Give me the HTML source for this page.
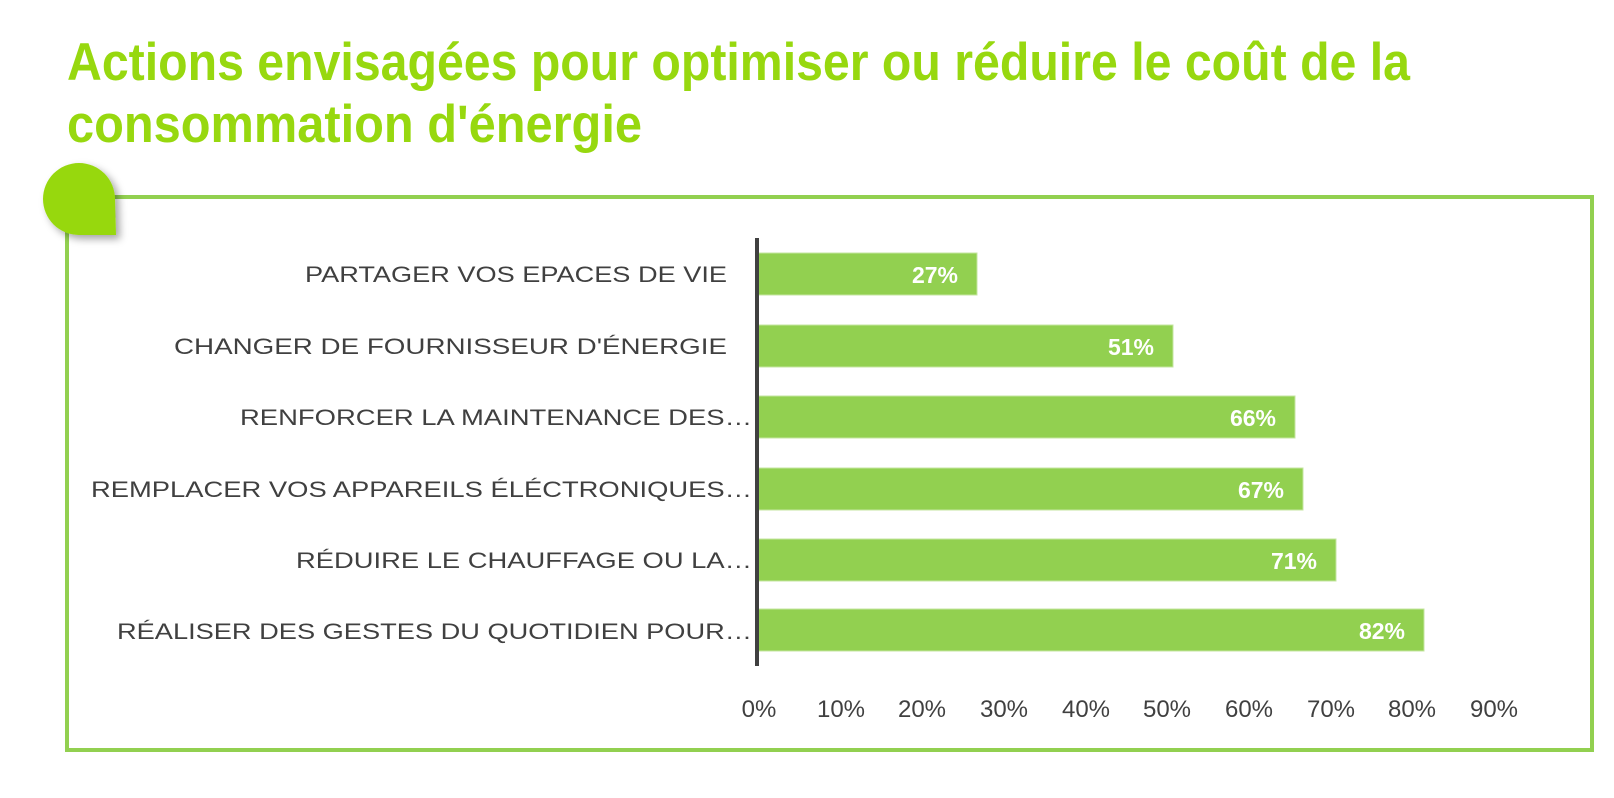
<!DOCTYPE html>
<html><head><meta charset="utf-8"><style>
html,body{margin:0;padding:0;background:#fff;}
svg{display:block;}
</style></head><body>
<svg width="1614" height="798" viewBox="0 0 1614 798" xmlns="http://www.w3.org/2000/svg">
<defs>
<filter id="sh" x="-30%" y="-30%" width="170%" height="170%"><feDropShadow dx="4" dy="4" stdDeviation="4" flood-color="#000" flood-opacity="0.35"/></filter>
</defs>
<g font-family="Liberation Sans, sans-serif" font-weight="bold" fill="#97d80f" font-size="53">
<text x="67" y="80" textLength="1343" lengthAdjust="spacingAndGlyphs">Actions envisagées pour optimiser ou réduire le coût de la</text>
<text x="67" y="142" textLength="575" lengthAdjust="spacingAndGlyphs">consommation d'énergie</text>
</g>
<rect x="67" y="197" width="1525" height="553" fill="none" stroke="#92d050" stroke-width="4"/>
<path d="M79 163 A36 36 0 0 1 115 199 L116 235 L79 235 A36 36 0 0 1 79 163 Z" fill="#97d80f" filter="url(#sh)"/>
<g fill="#92d050" stroke="#c4e6a0" stroke-width="1">
<rect x="757" y="253" width="220" height="42"/>
<rect x="757" y="325" width="416" height="42"/>
<rect x="757" y="396" width="538" height="42"/>
<rect x="757" y="468" width="546" height="42"/>
<rect x="757" y="539" width="579" height="42"/>
<rect x="757" y="609" width="667" height="42"/>
</g>
<line x1="757" y1="238" x2="757" y2="666" stroke="#404040" stroke-width="4"/>
<g font-family="Liberation Sans, sans-serif" font-weight="bold" fill="#fff" font-size="23" text-anchor="end">
<text x="958" y="283">27%</text>
<text x="1154" y="355">51%</text>
<text x="1276" y="426">66%</text>
<text x="1284" y="498">67%</text>
<text x="1317" y="569">71%</text>
<text x="1405" y="639">82%</text>
</g>
<g font-family="Liberation Sans, sans-serif" fill="#404040" font-size="22">
<text x="305" y="282" textLength="422" lengthAdjust="spacingAndGlyphs">PARTAGER VOS EPACES DE VIE</text>
<text x="174" y="354" textLength="553" lengthAdjust="spacingAndGlyphs">CHANGER DE FOURNISSEUR D'ÉNERGIE</text>
<text x="240" y="425" textLength="512" lengthAdjust="spacingAndGlyphs">RENFORCER LA MAINTENANCE DES…</text>
<text x="91" y="497" textLength="661" lengthAdjust="spacingAndGlyphs">REMPLACER VOS APPAREILS ÉLÉCTRONIQUES…</text>
<text x="296" y="568" textLength="456" lengthAdjust="spacingAndGlyphs">RÉDUIRE LE CHAUFFAGE OU LA…</text>
<text x="117" y="639" textLength="635" lengthAdjust="spacingAndGlyphs">RÉALISER DES GESTES DU QUOTIDIEN POUR…</text>
</g>
<g font-family="Liberation Sans, sans-serif" fill="#404040" font-size="24" text-anchor="middle">
<text x="759" y="717">0%</text>
<text x="841" y="717">10%</text>
<text x="922" y="717">20%</text>
<text x="1004" y="717">30%</text>
<text x="1086" y="717">40%</text>
<text x="1167" y="717">50%</text>
<text x="1249" y="717">60%</text>
<text x="1331" y="717">70%</text>
<text x="1412" y="717">80%</text>
<text x="1494" y="717">90%</text>
</g>
</svg>
</body></html>
